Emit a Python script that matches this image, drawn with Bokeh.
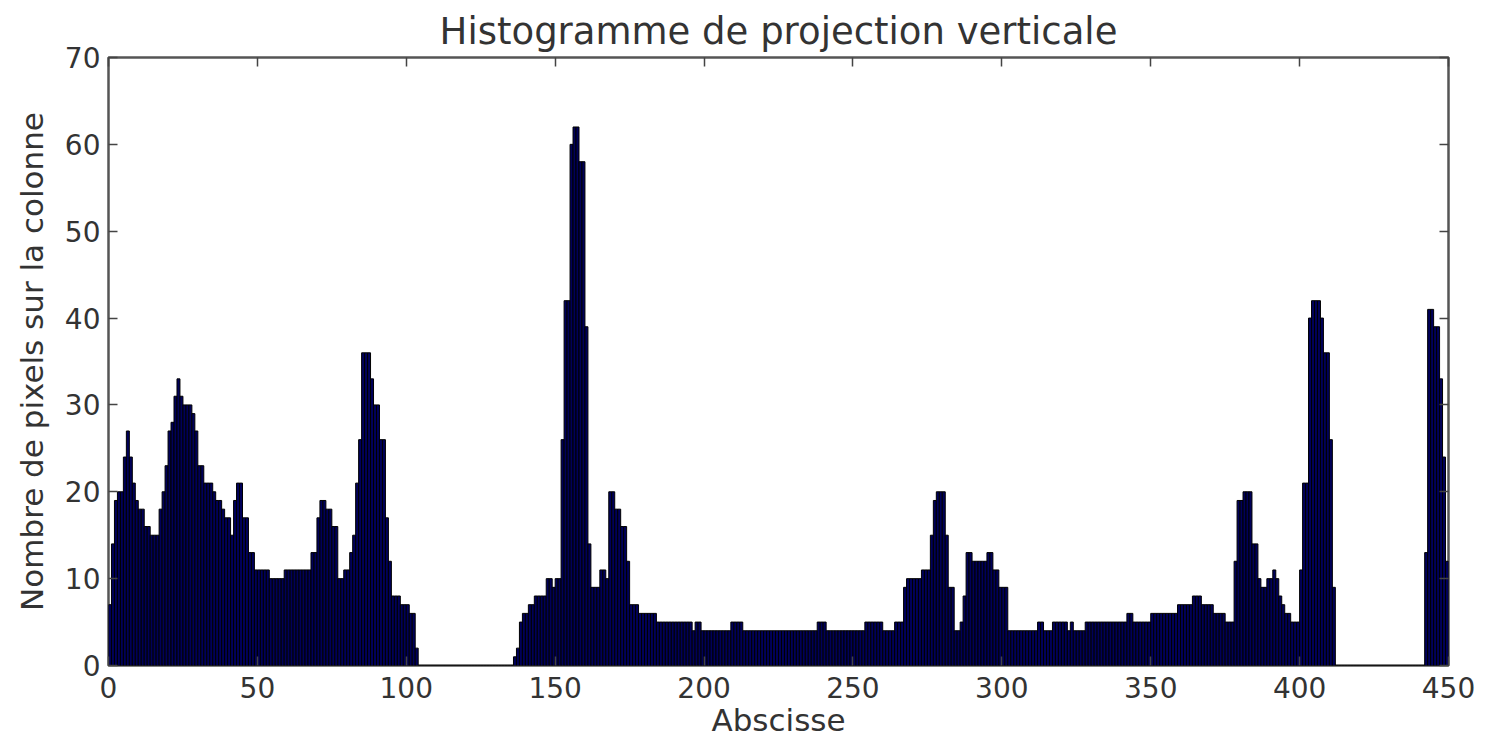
from bokeh.plotting import figure
from bokeh.models import LinearAxis, FixedTicker, Range1d, ColumnDataSource
from bokeh.embed import file_html
from bokeh.resources import INLINE

# Pixel counts per column (vertical projection), columns 0..449
counts_000_089 = [
    7, 14, 19, 20, 20, 24, 27, 24, 21, 19,
    18, 18, 16, 16, 15, 15, 15, 18, 20, 23,
    27, 28, 31, 33, 31, 30, 30, 30, 29, 27,
    23, 23, 21, 21, 21, 20, 19, 19, 18, 17,
    17, 15, 19, 21, 21, 17, 17, 13, 13, 11,
    11, 11, 11, 11, 10, 10, 10, 10, 10, 11,
    11, 11, 11, 11, 11, 11, 11, 11, 13, 13,
    17, 19, 19, 18, 18, 16, 16, 10, 10, 11,
    11, 13, 15, 21, 26, 36, 36, 36, 33, 30,
]
counts_090_179 = [
    30, 26, 26, 17, 12, 8, 8, 8, 7, 7,
    7, 6, 6, 2, 0, 0, 0, 0, 0, 0,
    0, 0, 0, 0, 0, 0, 0, 0, 0, 0,
    0, 0, 0, 0, 0, 0, 0, 0, 0, 0,
    0, 0, 0, 0, 0, 0, 1, 2, 5, 6,
    6, 7, 7, 8, 8, 8, 8, 10, 10, 9,
    10, 10, 26, 42, 42, 60, 62, 62, 58, 58,
    39, 14, 9, 9, 9, 11, 11, 10, 20, 20,
    18, 18, 16, 16, 12, 7, 7, 7, 6, 6,
]
counts_180_269 = [
    6, 6, 6, 6, 5, 5, 5, 5, 5, 5,
    5, 5, 5, 5, 5, 5, 4, 5, 5, 4,
    4, 4, 4, 4, 4, 4, 4, 4, 4, 5,
    5, 5, 5, 4, 4, 4, 4, 4, 4, 4,
    4, 4, 4, 4, 4, 4, 4, 4, 4, 4,
    4, 4, 4, 4, 4, 4, 4, 4, 5, 5,
    5, 4, 4, 4, 4, 4, 4, 4, 4, 4,
    4, 4, 4, 4, 5, 5, 5, 5, 5, 5,
    4, 4, 4, 4, 5, 5, 5, 9, 10, 10,
]
counts_270_359 = [
    10, 10, 10, 11, 11, 11, 15, 19, 20, 20,
    20, 15, 9, 9, 4, 4, 5, 8, 13, 13,
    12, 12, 12, 12, 12, 13, 13, 11, 11, 9,
    9, 9, 4, 4, 4, 4, 4, 4, 4, 4,
    4, 4, 5, 5, 4, 4, 4, 5, 5, 5,
    5, 5, 4, 5, 4, 4, 4, 4, 5, 5,
    5, 5, 5, 5, 5, 5, 5, 5, 5, 5,
    5, 5, 6, 6, 5, 5, 5, 5, 5, 5,
    6, 6, 6, 6, 6, 6, 6, 6, 6, 7,
]
counts_360_449 = [
    7, 7, 7, 7, 8, 8, 8, 7, 7, 7,
    7, 6, 6, 6, 6, 5, 5, 5, 12, 19,
    19, 20, 20, 20, 14, 14, 10, 9, 9, 10,
    10, 11, 10, 8, 7, 6, 6, 5, 5, 5,
    11, 21, 21, 40, 42, 42, 42, 40, 36, 36,
    26, 9, 0, 0, 0, 0, 0, 0, 0, 0,
    0, 0, 0, 0, 0, 0, 0, 0, 0, 0,
    0, 0, 0, 0, 0, 0, 0, 0, 0, 0,
    0, 0, 13, 41, 41, 39, 39, 33, 24, 12,
]

counts = counts_000_089 + counts_090_179 + counts_180_269 + counts_270_359 + counts_360_449
columns = list(range(len(counts)))
x_ticks = [0, 50, 100, 150, 200, 250, 300, 350, 400, 450]
y_ticks = [0, 10, 20, 30, 40, 50, 60, 70]

title_text = "Histogramme de projection verticale"
x_label = "Abscisse"
y_label = "Nombre de pixels sur la colonne"

src = ColumnDataSource(dict(x=[c + 0.5 for c in columns], top=counts))

FONT = "DejaVu Sans"
TXT = "#333333"

p = figure(width=1480, height=742,
           x_range=Range1d(0, 450), y_range=Range1d(0, 70),
           output_backend="svg", toolbar_location=None,
           min_border_left=108, min_border_right=32,
           min_border_top=57, min_border_bottom=77,
           title=title_text)

p.vbar(x="x", top="top", width=1.0, source=src,
       fill_color="#00005a", line_color="black", line_width=1)

p.grid.visible = False
p.background_fill_color = "white"
p.border_fill_color = "white"
p.outline_line_color = "#555555"
p.outline_line_width = 2.5

p.title.text_font = FONT
p.title.text_font_size = "37px"
p.title.text_font_style = "normal"
p.title.text_color = TXT
p.title.align = "center"
p.title.standoff = 9

def style_axis(ax, ticks, show_labels):
    ax.ticker = FixedTicker(ticks=ticks)
    ax.axis_line_color = None
    ax.major_tick_in = 9
    ax.major_tick_out = 0
    ax.major_tick_line_color = "#444444"
    ax.major_tick_line_width = 1.5
    ax.minor_tick_line_color = None
    ax.major_label_text_font = FONT
    if show_labels:
        ax.major_label_text_color = TXT
        ax.major_label_text_font_size = "28px"
        ax.major_label_standoff = 8
    else:
        ax.major_label_text_color = None
        ax.major_label_text_font_size = "1px"
        ax.major_label_standoff = 0

style_axis(p.xaxis[0], x_ticks, True)
style_axis(p.yaxis[0], y_ticks, True)
p.xaxis[0].major_label_standoff = 11
p.xaxis[0].axis_label = x_label
p.yaxis[0].axis_label = y_label
for ax in (p.xaxis[0], p.yaxis[0]):
    ax.axis_label_text_font = FONT
    ax.axis_label_text_font_size = "31px"
    ax.axis_label_text_font_style = "normal"
    ax.axis_label_text_color = TXT
p.xaxis[0].axis_label_standoff = 1
p.yaxis[0].axis_label_standoff = 12

top_ax = LinearAxis()
style_axis(top_ax, x_ticks, False)
p.add_layout(top_ax, "above")
right_ax = LinearAxis()
style_axis(right_ax, y_ticks, False)
p.add_layout(right_ax, "right")

open("out.html", "w").write(file_html(p, INLINE))
